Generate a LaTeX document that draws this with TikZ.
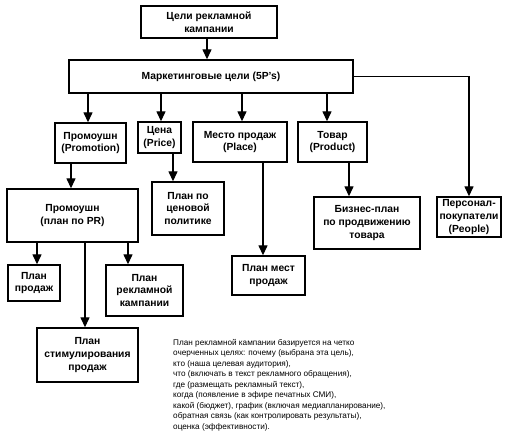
\documentclass[tikz,border=0pt]{standalone}
\usepackage{fontspec}
\setmainfont{Liberation Sans}
\usetikzlibrary{arrows.meta}
\begin{document}
\begin{tikzpicture}[x=1pt,y=-1pt,
  box/.style={draw,line width=1.4pt,inner sep=0pt,align=center,
    font=\fontsize{10.3}{12.8}\selectfont\bfseries},
  arr/.style={line width=1.4pt,-{Triangle[length=10pt,width=9pt]}}]
\useasboundingbox (0,0) rectangle (517,438);
\node[box,minimum width=136pt,minimum height=32pt] (top) at (209,22) {Цели рекламной\\кампании};
\node[box,minimum width=284pt,minimum height=33pt] (mkt) at (211,76.5) {Маркетинговые цели (5P's)};
\node[box,minimum width=71pt,minimum height=40pt] (promo) at (90.5,143) {Промоушн\\(Promotion)};
\node[box,minimum width=43pt,minimum height=31pt] (price) at (159.5,137.5) {Цена\\(Price)};
\node[box,minimum width=94pt,minimum height=40pt] (place) at (240,142) {Место продаж\\(Place)};
\node[box,minimum width=69pt,minimum height=40pt] (prod) at (332.5,142) {Товар\\(Product)};
\node[box,minimum width=131pt,minimum height=53pt] (pr) at (72.5,215.5) {Промоушн\\(план по PR)};
\node[box,minimum width=72pt,minimum height=53pt] (pricepl) at (188,208.5) {План по\\ценовой\\политике};
\node[box,minimum width=73pt,minimum height=39pt] (placepl) at (268.5,275.5) {План мест\\продаж};
\node[box,minimum width=106pt,minimum height=52pt] (biz) at (367,223) {Бизнес-план\\по продвижению\\товара};
\node[box,minimum width=64pt,minimum height=40pt] (people) at (469,217) {Персонал-\\покупатели\\(People)};
\node[box,minimum width=52pt,minimum height=36pt] (sales) at (34,283) {План\\продаж};
\node[box,minimum width=77pt,minimum height=51pt] (adplan) at (144.5,290.5) {План\\рекламной\\кампании};
\node[box,minimum width=101pt,minimum height=54pt] (stim) at (87.5,355) {План\\стимулирования\\продаж};
\node[anchor=north west,inner sep=0pt,align=left,font=\fontsize{8.2}{10.5}\selectfont] (txt) at (173,339) {План рекламной кампании базируется на четко\\
очерченных целях: почему (выбрана эта цель),\\
кто (наша целевая аудитория),\\
что (включать в текст рекламного обращения),\\
где (размещать рекламный текст),\\
когда (появление в эфире печатных СМИ),\\
какой (бюджет), график (включая медиапланирование),\\
обратная связь (как контролировать результаты),\\
оценка (эффективности).};
\draw[arr] (top.south -| 207,0) -- (mkt.north -| 207,0);
\draw[arr] (mkt.south -| 88,0) -- (promo.north -| 88,0);
\draw[arr] (mkt.south -| 161,0) -- (price.north -| 161,0);
\draw[arr] (mkt.south -| 242,0) -- (place.north -| 242,0);
\draw[arr] (mkt.south -| 327,0) -- (prod.north -| 327,0);
\draw[arr] (mkt.east) -| (people.north);
\draw[arr] (promo.south -| 71,0) -- (pr.north -| 71,0);
\draw[arr] (price.south -| 173,0) -- (pricepl.north -| 173,0);
\draw[arr] (place.south -| 263,0) -- (placepl.north -| 263,0);
\draw[arr] (prod.south -| 349,0) -- (biz.north -| 349,0);
\draw[arr] (pr.south -| 37,0) -- (sales.north -| 37,0);
\draw[arr] (pr.south -| 85,0) -- (stim.north -| 85,0);
\draw[arr] (pr.south -| 128,0) -- (adplan.north -| 128,0);
\end{tikzpicture}
\end{document}
